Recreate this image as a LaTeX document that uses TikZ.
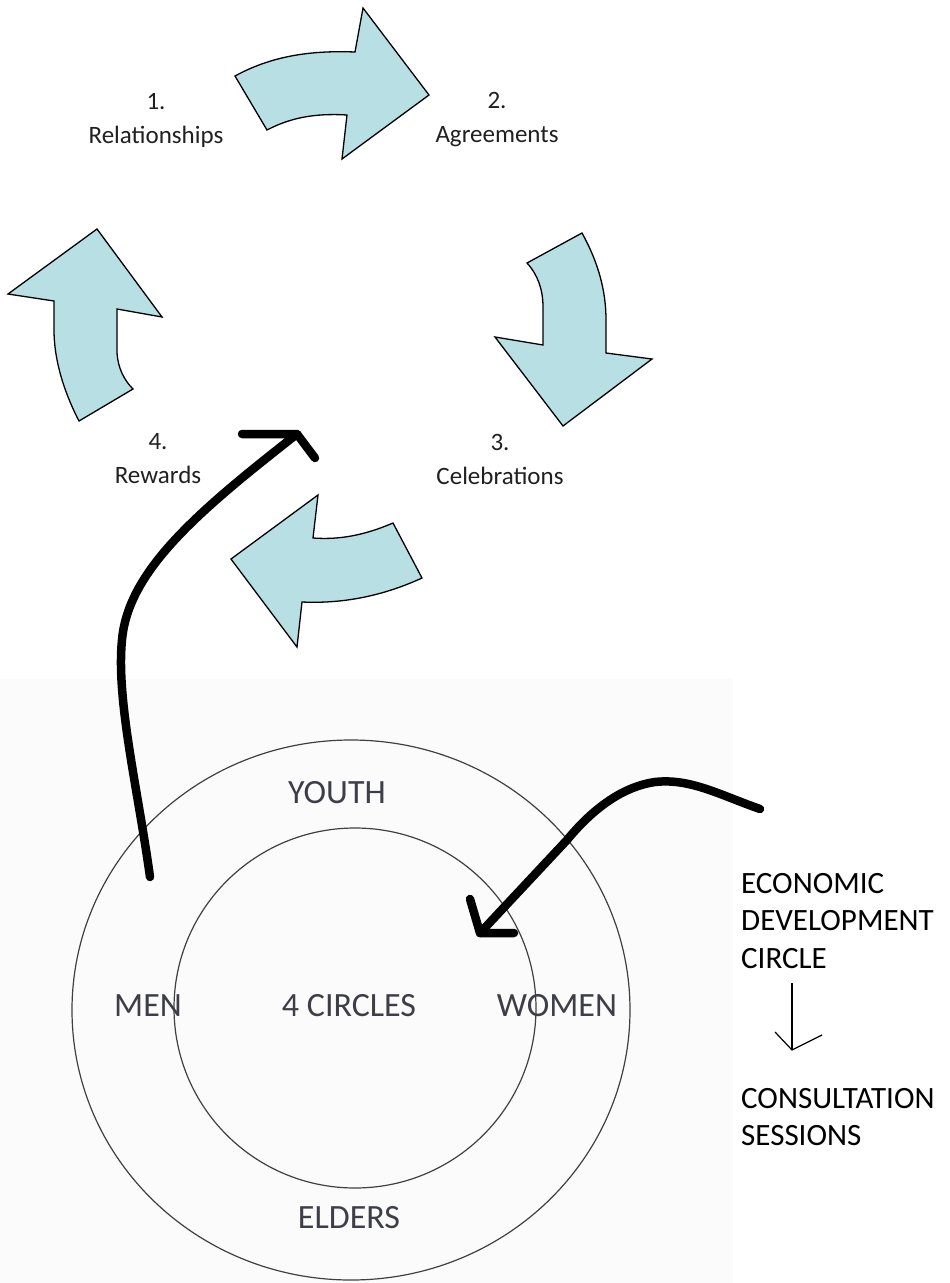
\documentclass[tikz,border=0pt]{standalone}
\usepackage{fontspec}
\setmainfont{Carlito}
\usetikzlibrary{shapes.geometric}
\definecolor{cyc}{RGB}{184,223,227}
\definecolor{pastebg}{RGB}{251,251,251}
\definecolor{ringtxt}{RGB}{62,62,72}
\definecolor{cyctxt}{RGB}{32,32,32}
\tikzset{
  cycarrow/.style={fill=cyc, draw=black, line width=1.3pt, line join=miter},
  cyclabel/.style={font=\fontsize{25}{34}\selectfont, text=cyctxt, align=center, inner sep=0pt},
  ringlabel/.style={font=\fontsize{34}{40}\selectfont, text=ringtxt, inner sep=0pt},
  sidelabel/.style={font=\fontsize{31}{37.5}\selectfont, text=black, align=left, inner sep=0pt, anchor=west},
  ring/.style={draw=black!75, line width=1.2pt, ellipse, inner sep=0pt, outer sep=0pt},
  bold/.style={draw=black, line width=8.5pt, line cap=round, line join=round},
  thin/.style={draw=black, line width=1.2pt}
}
\begin{document}
\begin{tikzpicture}[x=1pt,y=-1pt]
\useasboundingbox (0,0) rectangle (950,1283);
\fill[white] (0,0) rectangle (950,1283);
\fill[pastebg] (0,679) rectangle (733,1283);

% cycle arrows
\path[cycarrow] (235,76) .. controls (268,58) and (305,50) .. (355,52) -- (363,8) -- (429,95) -- (342,159) -- (347,115) .. controls (314,113) and (290,118) .. (267,130) -- cycle;
\path[cycarrow] (527,263) -- (582,233) .. controls (598,262) and (606,290) .. (606,320) -- (606,353) -- (652,359) -- (563,426) -- (495,337) -- (543,345) -- (543,307) .. controls (543,290) and (538,275) .. (527,263) -- cycle;
\path[cycarrow] (318,495) -- (231,559) -- (297,647) -- (302,602) .. controls (345,604) and (385,595) .. (422,578) -- (393,523) .. controls (365,535) and (340,540) .. (313,538) -- cycle;
\path[cycarrow] (97,229) -- (162,317) -- (117,309) -- (117,353) .. controls (118,368) and (124,380) .. (133,389) -- (79,421) .. controls (64,392) and (54,360) .. (54,330) -- (54,301) -- (8,294) -- cycle;

% cycle labels
\node[cyclabel] (l1) at (156,120) {1.\\Relationships};
\node[cyclabel] (l2) at (497,120) {2.\\Agreements};
\node[cyclabel] (l3) at (500,459) {3.\\Celebrations};
\node[cyclabel] (l4) at (158,459) {4.\\Rewards};

% rings
\node[ring, minimum width=558pt, minimum height=540pt] (outer) at (351,1010) {};
\node[ring, minimum width=362pt, minimum height=360pt] (inner) at (355,1008) {};
\node[ringlabel] (youth) at (337,793) {YOUTH};
\node[ringlabel] (men) at (148,1006) {MEN};
\node[ringlabel] (four) at (349,1006) {4 CIRCLES};
\node[ringlabel] (women) at (557,1006) {WOMEN};
\node[ringlabel] (elders) at (349,1218) {ELDERS};

% side labels
\node[sidelabel] (edc) at (741,921) {ECONOMIC\\DEVELOPMENT\\CIRCLE};
\node[sidelabel] (cs) at (741,1117) {CONSULTATION\\SESSIONS};
\coordinate (s1) at (792,983);
\coordinate (s2) at (792,1050);
\draw[thin] (s1) -- (s2);
\draw[thin] (775,1032) -- (s2) -- (822,1035);

% bold arrows
\coordinate (a1) at (150,877);
\coordinate (a2) at (297,434);
\draw[bold] (a1) .. controls (138,790) and (116,700) .. (122,640) .. controls (128,570) and (200,510) .. (a2);
\draw[bold] (242,434) -- (a2) -- (315,458);

\coordinate (b1) at (760,809);
\coordinate (b2) at (480,933);
\draw[bold] (b1) .. controls (720,795) and (690,778) .. (655,782) .. controls (620,787) and (590,812) .. (567,840) -- (b2);
\draw[bold] (470,899) -- (b2) -- (514,933);
\end{tikzpicture}
\end{document}
